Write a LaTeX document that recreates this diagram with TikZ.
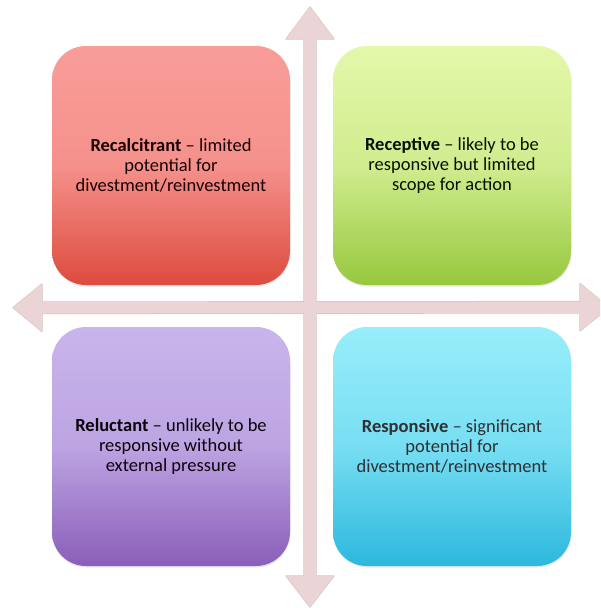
\documentclass[tikz,border=0pt]{standalone}
\usepackage{fontspec}
\setmainfont{Carlito}
\usepackage{tikz}
\usetikzlibrary{shadows}

\definecolor{axisfill}{HTML}{EAD4D6}
\definecolor{axisline}{HTML}{D8C1C3}
\definecolor{redtop}{HTML}{F99D99}
\definecolor{redbot}{HTML}{DD4B3E}
\definecolor{greentop}{HTML}{E4F8AA}
\definecolor{greenbot}{HTML}{97C83E}
\definecolor{purpletop}{HTML}{C9B5EC}
\definecolor{purplebot}{HTML}{8A5EB9}
\definecolor{bluetop}{HTML}{98EEFB}
\definecolor{bluebot}{HTML}{2CB8DE}

\tikzset{
	quadrant/.style={rounded corners=34pt, minimum width=238pt, minimum height=239pt,
		inner sep=0pt, align=center, font=\fontsize{18.5}{20}\selectfont,
		drop shadow={opacity=0.18, shadow xshift=0.5pt, shadow yshift=-1.5pt}},
}

\begin{document}
\begin{tikzpicture}[x=1pt,y=-1pt]
	\useasboundingbox (0,0) rectangle (600,608);
	\clip (0,0) rectangle (600,608);
	\fill[white] (0,0) rectangle (600,608);
	% axes, outlines first and fills over them
	\coordinate (top) at (310,7);
	\coordinate (bottom) at (310,607);
	\coordinate (left) at (13,307.5);
	\coordinate (right) at (609,307.5);
	\draw[axisline,line width=1.2pt,line join=round] (top) -- ++(24,32) -- ++(-18,0) -- (316,576) -- ++(18,0) -- (bottom) -- ++(-24,-31) -- ++(18,0) -- (304,39) -- ++(-18,0) -- cycle;
	\draw[axisline,line width=1.2pt,line join=round] (left) -- ++(29,-23.5) -- ++(0,18) -- (580,301.5) -- ++(0,-18) -- (right) -- ++(-29,23.5) -- ++(0,-18) -- (42,313.5) -- ++(0,18) -- cycle;
	\fill[axisfill] (top) -- ++(24,32) -- ++(-18,0) -- (316,576) -- ++(18,0) -- (bottom) -- ++(-24,-31) -- ++(18,0) -- (304,39) -- ++(-18,0) -- cycle;
	\fill[axisfill] (left) -- ++(29,-23.5) -- ++(0,18) -- (580,301.5) -- ++(0,-18) -- (right) -- ++(-29,23.5) -- ++(0,-18) -- (42,313.5) -- ++(0,18) -- cycle;
	% the four boxes
	\node[quadrant, top color=redtop, bottom color=redbot, middle color=redtop!85!redbot, text=black!90!red] (recalcitrant) at (171,165.5)
		{\textbf{Recalcitrant} -- limited\\potential for\\divestment/reinvestment};
	\node[quadrant, top color=greentop, bottom color=greenbot, middle color=greentop!75!greenbot, text=black!92!green] (receptive) at (452,165.5)
		{\textbf{Receptive} -- likely to be\\responsive but limited\\scope for action};
	\node[quadrant, top color=purpletop, bottom color=purplebot, middle color=purpletop!80!purplebot, text=black!90!violet] (reluctant) at (171,446.5)
		{\textbf{Reluctant} -- unlikely to be\\responsive without\\external pressure};
	\node[quadrant, top color=bluetop, bottom color=bluebot, middle color=bluetop!70!bluebot, text=black!92!cyan] (responsive) at (452,446.5)
		{\textbf{Responsive} -- significant\\potential for\\divestment/reinvestment};
\end{tikzpicture}
\end{document}
